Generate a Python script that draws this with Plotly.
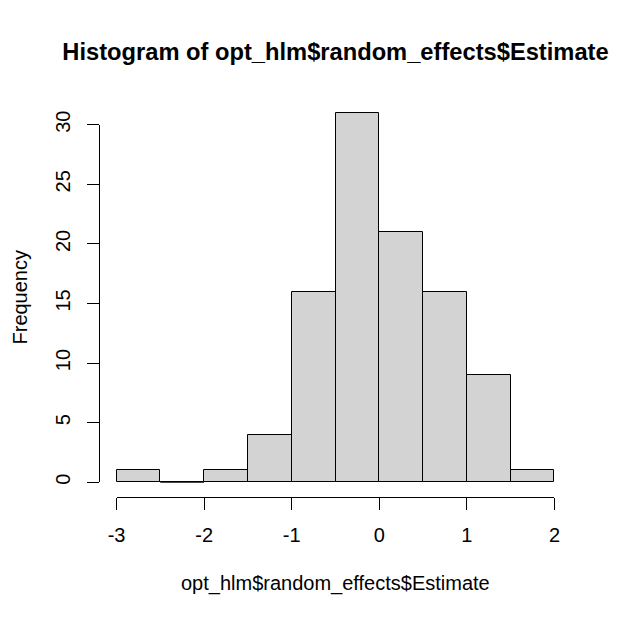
import plotly.graph_objects as go

# Data
bin_edges = [-3.0, -2.5, -2.0, -1.5, -1.0, -0.5, 0.0, 0.5, 1.0, 1.5, 2.0]
counts = [1, 0, 1, 4, 16, 31, 21, 16, 9, 1]
x_ticks = [-3, -2, -1, 0, 1, 2]
y_ticks = [0, 5, 10, 15, 20, 25, 30]
title_text = "Histogram of opt_hlm$random_effects$Estimate"
x_label = "opt_hlm$random_effects$Estimate"
y_label = "Frequency"

FONT = "Liberation Sans, Arial, sans-serif"

centers = [(a + b) / 2 for a, b in zip(bin_edges[:-1], bin_edges[1:])]
widths = [b - a for a, b in zip(bin_edges[:-1], bin_edges[1:])]

# R-style 4% range extension
xmin, xmax = bin_edges[0], bin_edges[-1]
ymin, ymax = 0, max(counts)
xpad = 0.04 * (xmax - xmin)
ypad = 0.04 * (ymax - ymin)
xr = [xmin - xpad, xmax + xpad]
yr = [ymin - ypad, ymax + ypad]

def frac(v, r):
    return (v - r[0]) / (r[1] - r[0])

fig = go.Figure()
fig.add_trace(go.Bar(
    x=centers, y=counts, width=widths,
    marker=dict(color="#D3D3D3", line=dict(color="black", width=1)),
    hoverinfo="x+y", showlegend=False,
))
# zero-height bins are drawn by R as a baseline segment
for c, a, b in zip(counts, bin_edges[:-1], bin_edges[1:]):
    if c == 0:
        fig.add_trace(go.Scatter(x=[a, b], y=[0, 0], mode="lines",
                                 line=dict(color="black", width=1),
                                 showlegend=False, hoverinfo="skip"))

# invisible trace to create the detached R-style axes
fig.add_trace(go.Scatter(x=[x_ticks[0], x_ticks[-1]], y=[y_ticks[0], y_ticks[-1]],
                         xaxis="x2", yaxis="y2", mode="markers",
                         marker=dict(opacity=0), showlegend=False, hoverinfo="skip"))

tickfont = dict(family=FONT, size=20, color="black")

fig.update_layout(
    width=622, height=620,
    margin=dict(l=91, r=58, t=90, b=131),
    paper_bgcolor="white", plot_bgcolor="rgba(0,0,0,0)",
    bargap=0,
    xaxis=dict(range=xr, domain=[0, 1], visible=False, fixedrange=True),
    yaxis=dict(range=yr, domain=[0, 1], visible=False, fixedrange=True),
    xaxis2=dict(range=[x_ticks[0], x_ticks[-1]],
                domain=[frac(x_ticks[0], xr), frac(x_ticks[-1], xr)],
                anchor="free", position=0, side="bottom",
                showline=True, linecolor="black", linewidth=1,
                ticks="outside", ticklen=12, tickwidth=1, tickcolor="black",
                tickvals=x_ticks, ticktext=[str(v) for v in x_ticks],
                tickfont=tickfont, showgrid=False, zeroline=False,
                ticklabelstandoff=8, fixedrange=True),
    yaxis2=dict(range=[y_ticks[0], y_ticks[-1]],
                domain=[frac(y_ticks[0], yr), frac(y_ticks[-1], yr)],
                anchor="free", position=0, side="left",
                showline=True, linecolor="black", linewidth=1,
                ticks="outside", ticklen=12, tickwidth=1, tickcolor="black",
                tickvals=y_ticks, ticktext=[str(v) for v in y_ticks],
                tickangle=-90,
                tickfont=tickfont, showgrid=False, zeroline=False,
                ticklabelstandoff=9, fixedrange=True),
    title=dict(text="<b>" + title_text + "</b>", x=0.5, xref="paper",
               y=1 - 44 / 620, yref="container", yanchor="middle", xanchor="center",
               font=dict(family=FONT, size=23.7, color="black")),
    annotations=[
        dict(text=x_label, xref="paper", yref="paper", x=0.5, y=0,
             yshift=-86, showarrow=False, yanchor="middle", xanchor="center",
             font=dict(family=FONT, size=20, color="black")),
        dict(text=y_label, xref="paper", yref="paper", x=0, y=0.5,
             xshift=-80, showarrow=False, textangle=-90, borderpad=0,
             yanchor="middle", xanchor="center",
             font=dict(family=FONT, size=20, color="black")),
    ],
)

fig.write_html("out.html")
